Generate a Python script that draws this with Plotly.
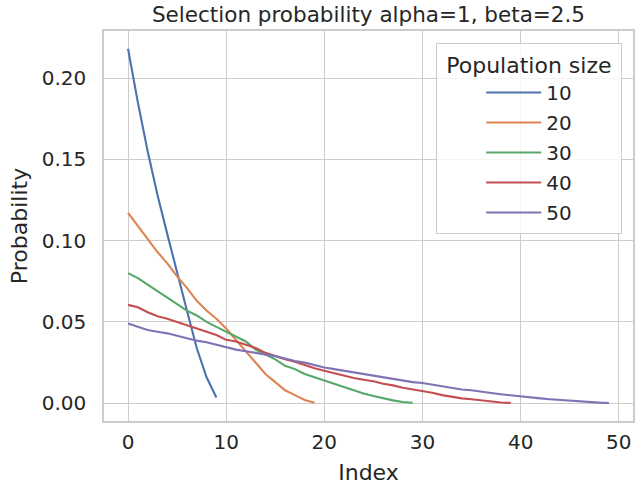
import plotly.graph_objects as go

pop_sizes = [10, 20, 30, 40, 50]
colors = ["#4c72b0", "#dd8452", "#55a868", "#c44e52", "#8172b3"]

p10 = [0.218, 0.185, 0.155, 0.128, 0.104, 0.080, 0.057, 0.034, 0.016, 0.0035]
p20 = [0.117, 0.109, 0.101, 0.093, 0.086, 0.078, 0.071, 0.063, 0.057, 0.052,
       0.046, 0.039, 0.032, 0.025, 0.018, 0.013, 0.008, 0.005, 0.002, 0.0003]
p30 = [0.080, 0.077, 0.073, 0.069, 0.065, 0.061, 0.057, 0.054, 0.050, 0.047,
       0.044, 0.041, 0.038, 0.033, 0.030, 0.027, 0.023, 0.021, 0.018, 0.016,
       0.014, 0.012, 0.010, 0.008, 0.006, 0.0045, 0.003, 0.0018, 0.0008, 0.0003]
p40 = [0.0605, 0.059, 0.056, 0.0535, 0.052, 0.050, 0.048, 0.046, 0.044, 0.042,
       0.039, 0.038, 0.036, 0.034, 0.031, 0.029, 0.027, 0.0255, 0.0235, 0.0215,
       0.020, 0.0185, 0.017, 0.0155, 0.0145, 0.0135, 0.012, 0.011, 0.0095, 0.0085,
       0.0075, 0.0065, 0.005, 0.004, 0.003, 0.0025, 0.0018, 0.001, 0.0005, 0.0002]
p50 = [0.049, 0.047, 0.045, 0.044, 0.043, 0.0415, 0.040, 0.0385, 0.0375, 0.036,
       0.0345, 0.033, 0.032, 0.031, 0.030, 0.029, 0.0275, 0.026, 0.025, 0.0235,
       0.022, 0.021, 0.020, 0.019, 0.018, 0.017, 0.016, 0.015, 0.014, 0.013,
       0.0125, 0.0115, 0.0105, 0.0095, 0.0085, 0.008, 0.007, 0.0063, 0.0055, 0.0048,
       0.0042, 0.0036, 0.003, 0.0025, 0.002, 0.0015, 0.0011, 0.0007, 0.0004, 0.0002]
series = [p10, p20, p30, p40, p50]

x_ticks = [0, 10, 20, 30, 40, 50]
y_ticks = [0.00, 0.05, 0.10, 0.15, 0.20]
y_tick_labels = ["0.00", "0.05", "0.10", "0.15", "0.20"]

FONT = "DejaVu Sans"
TXT = "#262626"
GRID = "#cccccc"

fig = go.Figure()
for n, vals, c in zip(pop_sizes, series, colors):
    fig.add_trace(go.Scatter(
        x=list(range(len(vals))), y=vals, mode="lines", name=str(n),
        line=dict(color=c, width=2.1), legendgroup=str(n),
    ))

fig.update_layout(
    width=644, height=487,
    margin=dict(l=104, r=11, t=31, b=66, autoexpand=False),
    paper_bgcolor="white", plot_bgcolor="white",
    font=dict(family=FONT, color=TXT, size=20),
    title=dict(text="Selection probability alpha=1, beta=2.5", xref="paper", x=0.5,
               xanchor="center", y=1 - 14 / 487, yanchor="middle",
               font=dict(size=21.5, color=TXT)),
    legend=dict(
        x=0.979, xanchor="right", y=0.969, yanchor="top",
        bgcolor="rgba(255,255,255,0.8)", bordercolor=GRID, borderwidth=1.3,
        font=dict(size=20),
        title=dict(text="&nbsp;Population size&nbsp;", side="top center",
                   font=dict(size=22)),
        itemwidth=55, tracegroupgap=1, indentation=44,
    ),
    showlegend=True,
)
fig.update_xaxes(
    range=[-2.45, 51.45], tickvals=x_ticks, ticktext=[str(v) for v in x_ticks],
    showgrid=True, gridcolor=GRID, gridwidth=1.3, zeroline=False,
    showline=True, linecolor=GRID, linewidth=1.6, mirror=True, automargin=False,
    ticks="", ticklabelstandoff=2, tickfont=dict(size=20),
    title=dict(text="Index", font=dict(size=22), standoff=12),
)
fig.update_yaxes(
    range=[-0.0109, 0.2289], tickvals=y_ticks, ticktext=y_tick_labels,
    showgrid=True, gridcolor=GRID, gridwidth=1.3, zeroline=False,
    showline=True, linecolor=GRID, linewidth=1.6, mirror=True, automargin=False,
    ticks="", ticklabelstandoff=12, tickfont=dict(size=20),
    title=dict(text="Probability", font=dict(size=22), standoff=8),
)

fig.write_html("out.html", config={"displayModeBar": False},
               post_script="document.body.style.margin='0';")
